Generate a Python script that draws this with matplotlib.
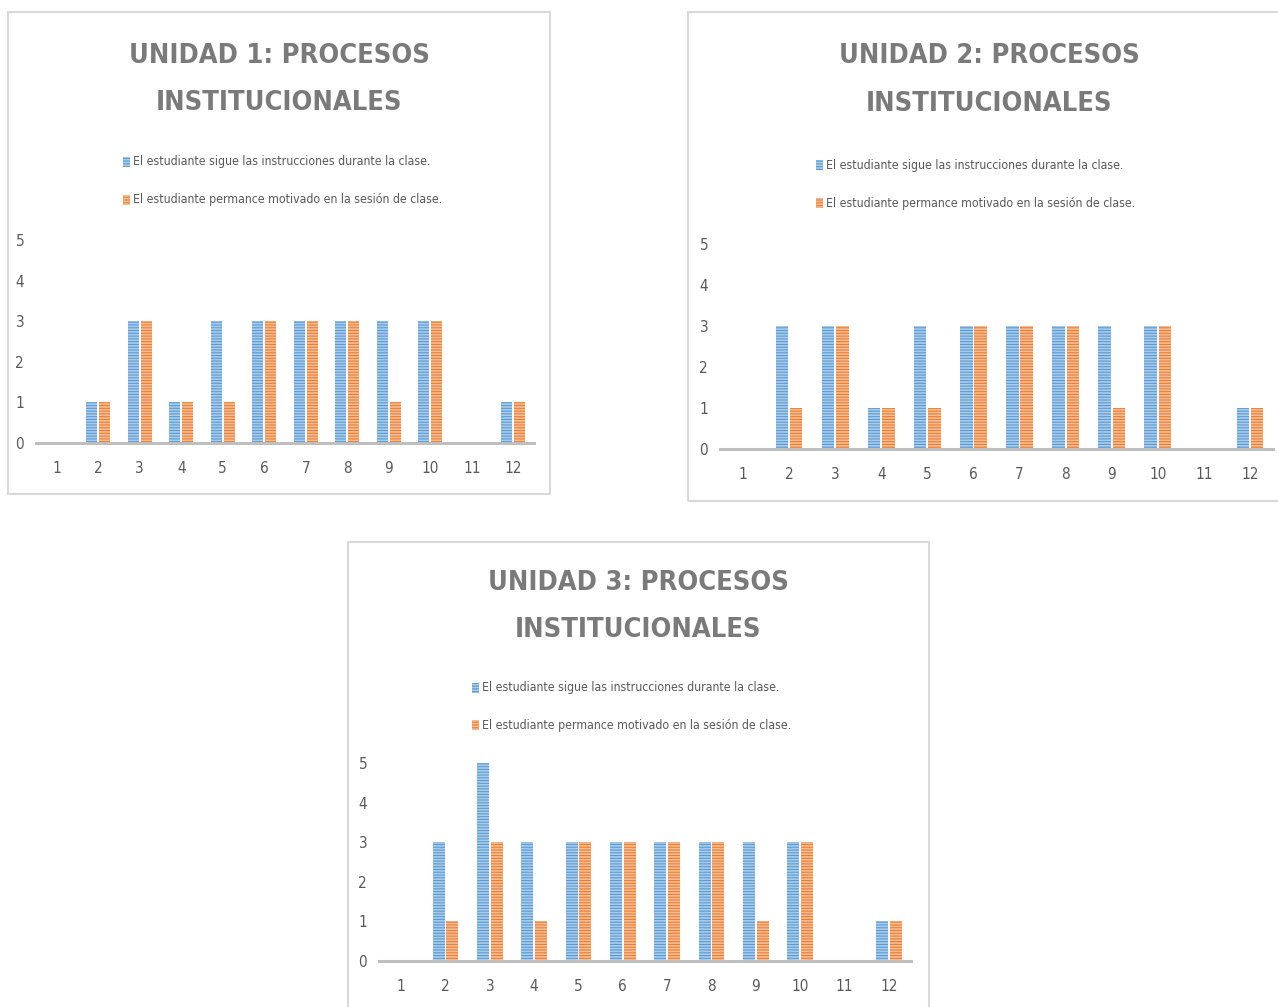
import matplotlib
matplotlib.use("Agg")
import matplotlib.pyplot as plt
from matplotlib.patches import Rectangle
import numpy as np

plt.rcParams['font.family'] = ['DejaVu Sans']
plt.rcParams['font.stretch'] = 'condensed'
plt.rcParams['hatch.linewidth'] = 1.2

# datos
categorias = [str(i) for i in range(1, 13)]
serie_sigue = "El estudiante sigue las instrucciones durante la clase."
serie_motivado = "El estudiante permance motivado en la sesión de clase."

titulos = ["UNIDAD 1: PROCESOS\nINSTITUCIONALES",
           "UNIDAD 2: PROCESOS\nINSTITUCIONALES",
           "UNIDAD 3: PROCESOS\nINSTITUCIONALES"]

u1_sigue = [0, 1, 3, 1, 3, 3, 3, 3, 3, 3, 0, 1]
u1_motivado = [0, 1, 3, 1, 1, 3, 3, 3, 1, 3, 0, 1]
u2_sigue = [0, 3, 3, 1, 3, 3, 3, 3, 3, 3, 0, 1]
u2_motivado = [0, 1, 3, 1, 1, 3, 3, 3, 1, 3, 0, 1]
u3_sigue = [0, 3, 5, 3, 3, 3, 3, 3, 3, 3, 0, 1]
u3_motivado = [0, 1, 3, 1, 3, 3, 3, 3, 1, 3, 0, 1]

W, H = 1278, 1007
AZUL, AZUL_CLARO = '#5B9BD5', '#A9CBEA'
NARANJA, NARANJA_CLARO = '#ED7D31', '#F6BC93'
GRIS = '#7A7A7A'

# posiciones en pixeles: marco, ejes (izq, arriba, der, cero), titulo, leyenda
paneles = [
    dict(marco=(8, 12, 550, 494), ejes=(36, 240, 534, 443), tx=279, ty=(56, 103), lx=126, ly=(162, 200)),
    dict(marco=(688, 12, 1300, 501), ejes=(720, 244, 1273, 449), tx=989, ty=(56, 104), lx=819, ly=(165, 203)),
    dict(marco=(348, 542, 929, 1040), ejes=(379, 763, 911, 961), tx=638, ty=(583, 630), lx=475, ly=(688, 725)),
]
datos = [(u1_sigue, u1_motivado), (u2_sigue, u2_motivado), (u3_sigue, u3_motivado)]

fig = plt.figure(figsize=(W / 100, H / 100), dpi=100)

def fx(p):
    return p / W

def fy(p):
    return 1 - p / H

x = np.arange(1, 13)
ancho = 0.27

for panel, titulo, (sigue, motivado) in zip(paneles, titulos, datos):
    x0, y0, x1, y1 = panel['marco']
    fig.patches.append(Rectangle((fx(x0), fy(y1)), fx(x1 - x0), (y1 - y0) / H,
                                 transform=fig.transFigure, fill=False,
                                 edgecolor='#D9D9D9', linewidth=1.5))
    l, t, r, b = panel['ejes']
    ax = fig.add_axes([fx(l), fy(b), fx(r - l), (b - t) / H])
    ax.bar(x - ancho / 2 - 0.02, sigue, ancho, color=AZUL, edgecolor=AZUL_CLARO,
           linewidth=0, hatch='------')
    ax.bar(x + ancho / 2 + 0.02, motivado, ancho, color=NARANJA, edgecolor=NARANJA_CLARO,
           linewidth=0, hatch='------')
    ax.set_xlim(0.5, 12.5)
    ax.set_ylim(0, 5)
    ax.set_xticks(x)
    ax.set_xticklabels(categorias)
    ax.set_yticks(range(6))
    for s in ['top', 'right', 'left']:
        ax.spines[s].set_visible(False)
    ax.spines['bottom'].set_color('#BFBFBF')
    ax.spines['bottom'].set_linewidth(2.2)
    ax.tick_params(axis='both', length=0, labelsize=11, labelcolor='#595959')
    ax.tick_params(axis='x', pad=13)
    ax.tick_params(axis='y', pad=8.5)
    ax.set_facecolor('none')

    linea1, linea2 = titulo.split('\n')
    for txt, yy in zip((linea1, linea2), panel['ty']):
        fig.text(fx(panel['tx']), fy(yy), txt, ha='center', va='center',
                 fontsize=19.5, fontweight='bold', color=GRIS)

    for etiqueta, col, colc, yy in zip((serie_sigue, serie_motivado),
                                       (AZUL, NARANJA), (AZUL_CLARO, NARANJA_CLARO),
                                       panel['ly']):
        fig.patches.append(Rectangle((fx(panel['lx'] - 3), fy(yy + 5)), fx(7), 10 / H,
                                     transform=fig.transFigure, facecolor=col,
                                     edgecolor=colc, linewidth=0, hatch='------'))
        fig.text(fx(panel['lx'] + 7), fy(yy), etiqueta, ha='left', va='center',
                 fontsize=8.8, color='#595959')

fig.savefig('out.png', dpi=100)
